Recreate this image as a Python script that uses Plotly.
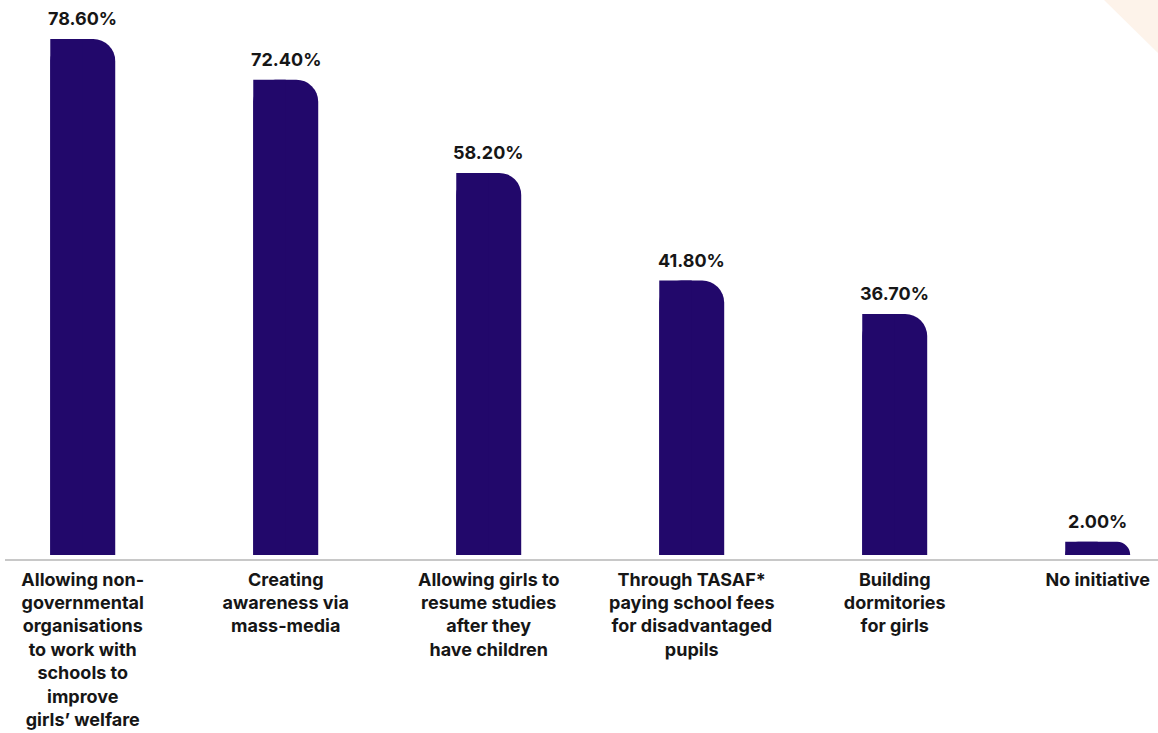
import plotly.graph_objects as go

categories = [
    "Allowing non-<br>governmental<br>organisations<br>to work with<br>schools to<br>improve<br>girls\u2019 welfare",
    "Creating<br>awareness via<br>mass-media",
    "Allowing girls to<br>resume studies<br>after they<br>have children",
    "Through TASAF*<br>paying school fees<br>for disadvantaged<br>pupils",
    "Building<br>dormitories<br>for girls",
    "No initiative",
]
values = [78.6, 72.4, 58.2, 41.8, 36.7, 2.0]
value_labels = ["78.60%", "72.40%", "58.20%", "41.80%", "36.70%", "2.00%"]

BAR_COLOR = "#22086b"
TEXT_COLOR = "#161616"
FONT = "Inter"
BAR_W = 0.32

positions = list(range(len(values)))

fig = go.Figure()

# Full-width bars with rounded top corners
fig.add_trace(go.Bar(
    x=positions, y=values, width=BAR_W,
    marker=dict(color=BAR_COLOR, cornerradius=22, line=dict(width=0)),
    hoverinfo="skip", showlegend=False,
))
# Left half drawn square so only the top-right corner stays rounded
fig.add_trace(go.Bar(
    x=positions, y=values, width=BAR_W / 2, offset=-BAR_W / 2,
    marker=dict(color=BAR_COLOR, cornerradius=0, line=dict(width=0)),
    hoverinfo="skip", showlegend=False,
))

for p, v, lab in zip(positions, values, value_labels):
    fig.add_annotation(
        x=p, y=v, text=f"<b>{lab}</b>", showarrow=False,
        yanchor="bottom", yshift=8,
        font=dict(family=FONT, size=18, color=TEXT_COLOR),
    )

# Peach corner triangle at the top right
fig.add_shape(
    type="path", xref="paper", yref="paper",
    path="M 0.9532 1 L 1 1 L 1 0.9052 Z",
    fillcolor="#fdf3ea", line=dict(width=0), layer="below",
)

fig.update_layout(
    width=1158, height=733,
    margin=dict(l=5, r=0, t=0, b=174),
    plot_bgcolor="white", paper_bgcolor="white",
    barmode="overlay",
    font=dict(family=FONT, color=TEXT_COLOR),
    xaxis=dict(
        range=[-0.383, 5.297],
        tickvals=positions,
        ticktext=[f"<b>{c}</b>" for c in categories],
        tickfont=dict(family=FONT, size=18, color=TEXT_COLOR),
        showgrid=False, zeroline=False,
        showline=True, linecolor="#c8c8c8", linewidth=2,
        ticks="", ticklabelstandoff=3,
    ),
    yaxis=dict(
        range=[-0.61, 84.54],
        visible=False, showgrid=False, zeroline=False,
    ),
)

fig.write_html("out.html")
